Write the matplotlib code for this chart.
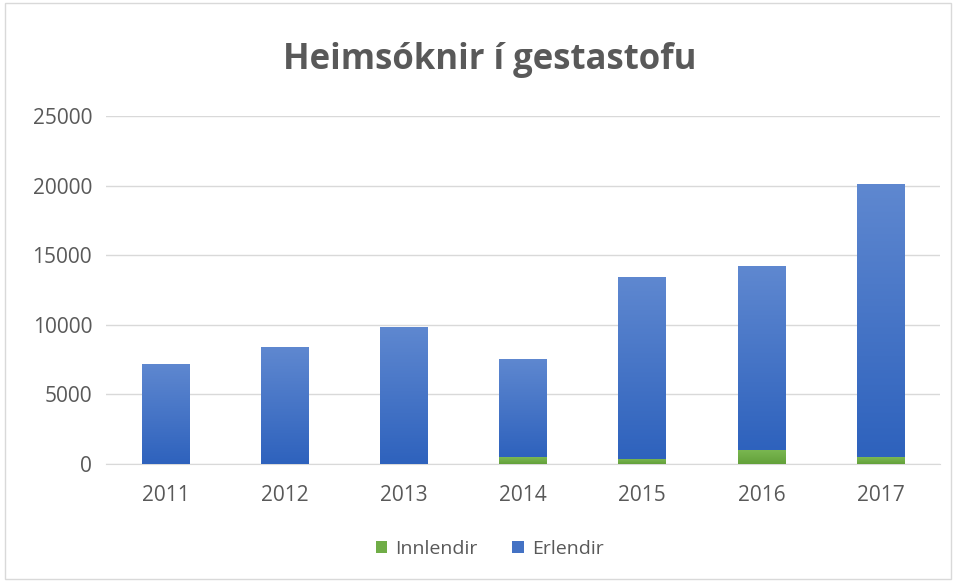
import numpy as np
import matplotlib.pyplot as plt
from matplotlib.colors import LinearSegmentedColormap
from matplotlib.patches import Rectangle

# gögn
years = ["2011", "2012", "2013", "2014", "2015", "2016", "2017"]
innlendir = [0, 0, 0, 480, 360, 1030, 480]
totals = [7200, 8400, 9870, 7550, 13450, 14200, 20100]
erlendir = [t - i for t, i in zip(totals, innlendir)]

grey = "#595959"
plt.rcParams['font.family'] = ['Open Sans', 'DejaVu Sans']

fig = plt.figure(figsize=(9.58, 5.82), dpi=100)
ax = fig.add_axes([0.1107, 0.2027, 0.8706, 0.598])

x = np.arange(len(years))
b1 = ax.bar(x, innlendir, width=0.4, color="#70ad47", label="Innlendir", zorder=3)
b2 = ax.bar(x, erlendir, width=0.4, bottom=innlendir, color="#4472c4",
            label="Erlendir", zorder=3)

# litastigull á súlunum
def gradient(bars, top, bottom):
    cmap = LinearSegmentedColormap.from_list("g", [bottom, top])
    grad = np.linspace(0, 1, 256).reshape(-1, 1)
    for p in bars:
        x0, y0 = p.get_x(), p.get_y()
        w, h = p.get_width(), p.get_height()
        if h <= 0:
            continue
        im = ax.imshow(grad, cmap=cmap, origin="lower", aspect="auto",
                       extent=[x0, x0 + w, y0, y0 + h], zorder=3.5)
        im.set_clip_path(p)

gradient(b2, "#5f88d0", "#2e62bd")
gradient(b1, "#7bb852", "#63a13a")

ax.set_xlim(-0.5, 6.5)
ax.set_ylim(0, 25000)
ax.set_yticks(range(0, 25001, 5000))
ax.set_xticks(x)
ax.set_xticklabels(years)
ax.grid(axis="y", color="#d9d9d9", linewidth=1, zorder=0)
for s in ["top", "right", "left"]:
    ax.spines[s].set_visible(False)
ax.spines["bottom"].set_color("#d9d9d9")
ax.tick_params(axis="both", length=0, labelsize=15, labelcolor=grey)
ax.tick_params(axis="x", pad=15)
ax.tick_params(axis="y", pad=10)

fig.text(0.511, 0.897, "Heimsóknir í gestastofu", ha="center", va="center",
         fontsize=25, fontweight="bold", color=grey)

fig.legend(handles=[b1, b2], loc="center", bbox_to_anchor=(0.511, 0.057),
           ncol=2, frameon=False, fontsize=14, labelcolor=grey,
           handlelength=0.6, handleheight=0.6, handletextpad=0.4,
           columnspacing=1.8)

fig.patches.append(Rectangle((0.005, 0.005), 0.988, 0.99, transform=fig.transFigure,
                             fill=False, edgecolor="#d9d9d9", linewidth=1))

fig.savefig("out.png", dpi=100)
